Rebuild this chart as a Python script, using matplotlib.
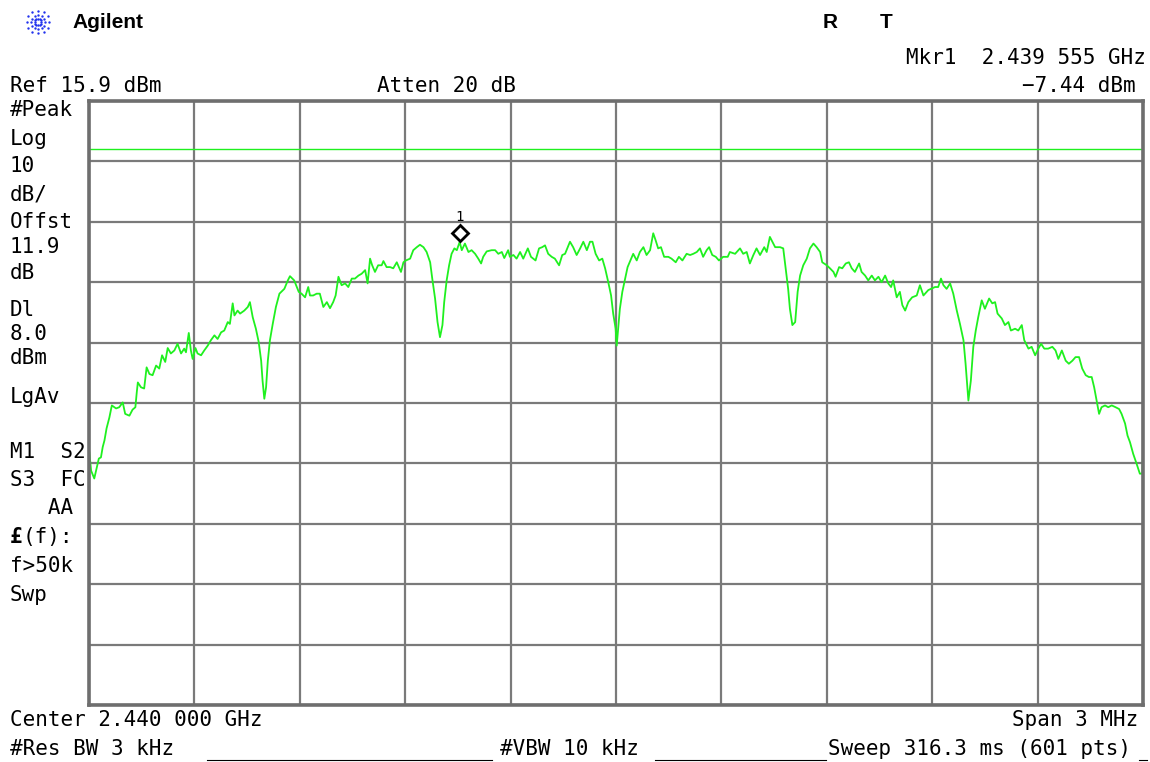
import numpy as np
import matplotlib
matplotlib.use('Agg')
import matplotlib.pyplot as plt
from matplotlib.lines import Line2D
from matplotlib.transforms import offset_copy


W, H = 1150, 762

CENTER_GHZ = 2.440
SPAN_MHZ = 3.0
REF_LEVEL = 15.9
DB_PER_DIV = 10
DISPLAY_LINE = 8.0
MKR_OFFSET_MHZ = -0.445
MKR_LEVEL = -7.44

# trace: offset from centre (MHz) and level (dBm)
freq_offset_mhz = [
    -1.499, -1.494, -1.485, -1.480, -1.472, -1.466, -1.461, -1.456, -1.450, -1.442,
    -1.435, -1.423, -1.414, -1.404, -1.397, -1.385, -1.376, -1.368, -1.364, -1.361,
    -1.352, -1.343, -1.336, -1.328, -1.319, -1.309, -1.300, -1.292, -1.283, -1.276,
    -1.267, -1.257, -1.248, -1.238, -1.229, -1.224, -1.216, -1.210, -1.205, -1.197,
    -1.191, -1.181, -1.172, -1.162, -1.153, -1.143, -1.134, -1.124, -1.115, -1.105,
    -1.099, -1.091, -1.086, -1.077, -1.070, -1.058, -1.048, -1.042, -1.034, -1.025,
    -1.017, -1.010, -1.006, -1.001, -0.996, -0.991, -0.985, -0.977, -0.968, -0.958,
    -0.944, -0.934, -0.928, -0.916, -0.903,
    -0.895, -0.885, -0.876, -0.871, -0.862, -0.852, -0.843, -0.833, -0.823, -0.814,
    -0.805, -0.798, -0.790, -0.781, -0.771, -0.762, -0.752, -0.743, -0.733, -0.724,
    -0.714, -0.707, -0.700, -0.694, -0.686, -0.677, -0.667, -0.662, -0.653, -0.643,
    -0.634, -0.624, -0.618, -0.612, -0.605, -0.598, -0.586, -0.577, -0.567, -0.558,
    -0.548, -0.539, -0.529, -0.523, -0.515, -0.508, -0.501, -0.494, -0.489, -0.482,
    -0.475, -0.468, -0.460, -0.453, -0.445, -0.439, -0.430, -0.420, -0.411, -0.401,
    -0.392, -0.384, -0.378, -0.368, -0.354, -0.344, -0.335, -0.325, -0.318, -0.307,
    -0.302, -0.292, -0.283, -0.273, -0.264, -0.251, -0.242, -0.229, -0.219, -0.210,
    -0.202, -0.193, -0.183, -0.174, -0.162, -0.153, -0.145, -0.131, -0.122, -0.112,
    -0.102, -0.093, -0.083, -0.074, -0.067, -0.058, -0.048, -0.039, -0.031, -0.022,
    -0.014, -0.008, -0.001, 0.002, 0.007, 0.011, 0.018, 0.026, 0.033, 0.043,
    0.049, 0.059, 0.068, 0.078, 0.087, 0.097, 0.106, 0.113, 0.120, 0.128,
    0.137, 0.149, 0.158, 0.170, 0.179, 0.189, 0.201, 0.211, 0.220, 0.230,
    0.239, 0.248, 0.258, 0.265, 0.274, 0.284, 0.293,
    0.305, 0.318, 0.324, 0.339, 0.353, 0.362, 0.372, 0.381, 0.391, 0.400,
    0.410, 0.422, 0.429, 0.438, 0.445, 0.453, 0.467, 0.476, 0.483, 0.490,
    0.495, 0.502, 0.510, 0.517, 0.524, 0.533, 0.543, 0.552, 0.562, 0.571,
    0.581, 0.587, 0.600, 0.609, 0.619, 0.625, 0.635, 0.644, 0.654, 0.663,
    0.671, 0.680, 0.692, 0.699, 0.709, 0.718, 0.728, 0.737, 0.747, 0.756,
    0.766, 0.775, 0.783, 0.789, 0.799, 0.808, 0.815, 0.823, 0.832, 0.843,
    0.856, 0.865, 0.875, 0.889,
    0.908, 0.917, 0.925, 0.932, 0.941, 0.951, 0.960, 0.970, 0.979, 0.989,
    0.995, 1.003, 1.010, 1.017, 1.024, 1.031, 1.041, 1.050, 1.062, 1.071,
    1.079, 1.086, 1.098, 1.107, 1.117, 1.124, 1.136, 1.145, 1.155, 1.162,
    1.174, 1.183, 1.193, 1.202, 1.210, 1.219, 1.230, 1.242, 1.251, 1.259,
    1.269, 1.280, 1.289, 1.299, 1.308, 1.318, 1.327, 1.337, 1.346, 1.354,
    1.361, 1.368, 1.375, 1.382, 1.392, 1.401, 1.411, 1.422, 1.432, 1.439,
    1.449, 1.456, 1.463, 1.472, 1.482, 1.491, 1.498, 1.500,
]

level_dbm = [
    -42.3, -45.3, -46.6, -45.3, -43.3, -43.1, -41.4, -40.3, -38.3, -36.5,
    -34.5, -35.0, -34.8, -34.0, -35.9, -36.2, -35.2, -34.8, -32.3, -30.7,
    -31.5, -31.7, -28.2, -29.3, -29.5, -27.9, -28.4, -26.2, -27.3, -25.0,
    -25.9, -25.4, -24.3, -25.9, -25.1, -25.7, -22.5, -25.4, -26.8, -25.0,
    -25.9, -26.2, -25.4, -24.6, -23.7, -22.9, -23.5, -22.4, -22.1, -20.7,
    -21.0, -17.6, -19.6, -18.8, -19.3, -18.8, -18.2, -17.4, -19.9, -21.8,
    -24.0, -27.1, -30.4, -33.4, -31.5, -27.1, -23.7, -21.0, -18.2, -16.0,
    -15.2, -13.8, -13.1, -13.8, -15.7,
    -16.0, -16.6, -14.9, -16.3, -16.3, -16.0, -16.0, -18.2, -17.4, -18.4,
    -17.4, -16.3, -13.2, -14.6, -14.3, -14.9, -13.5, -13.5, -13.0, -12.7,
    -12.1, -14.3, -10.2, -11.3, -12.4, -11.3, -11.3, -10.6, -11.6, -11.6,
    -11.8, -10.8, -11.6, -12.4, -10.8, -10.5, -10.2, -8.8, -8.3, -7.9,
    -8.3, -9.1, -10.8, -13.5, -16.8, -20.7, -23.2, -21.2, -17.4, -13.8,
    -11.3, -9.4, -8.5, -8.8, -7.44, -8.8, -7.7, -9.1, -8.8, -9.4,
    -10.2, -11.0, -9.9, -9.0, -8.8, -8.8, -9.4, -9.1, -10.1, -8.8,
    -9.9, -9.6, -10.2, -9.1, -10.2, -8.5, -9.9, -10.5, -8.5, -8.3,
    -8.0, -9.4, -9.9, -10.2, -11.3, -9.6, -9.4, -7.4, -8.3, -9.6,
    -8.5, -7.4, -8.8, -7.4, -7.4, -9.4, -10.5, -10.2, -11.8, -14.1,
    -16.3, -19.3, -21.8, -24.6, -21.2, -18.5, -15.7, -13.5, -11.6, -10.2,
    -9.4, -10.5, -9.1, -8.3, -9.6, -8.8, -6.0, -7.2, -8.5, -8.3,
    -9.9, -9.9, -10.2, -10.8, -9.9, -10.5, -9.4, -9.6, -9.4, -9.1,
    -8.5, -9.9, -8.8, -8.3, -9.6, -9.9, -10.5,
    -9.9, -9.9, -9.1, -9.4, -8.5, -9.4, -9.1, -11.0, -9.6, -8.5,
    -9.6, -8.3, -9.1, -6.6, -7.4, -8.3, -8.3, -8.5, -11.8, -15.2,
    -18.5, -21.2, -20.7, -15.7, -13.0, -11.3, -10.2, -8.5, -7.7, -8.3,
    -9.1, -10.8, -11.3, -11.8, -12.4, -13.2, -11.6, -11.8, -11.0, -10.8,
    -11.8, -12.4, -11.0, -12.4, -13.0, -13.8, -13.0, -13.8, -13.2, -14.1,
    -13.0, -14.3, -14.9, -13.8, -16.6, -15.7, -17.9, -18.8, -17.4, -16.6,
    -16.3, -14.6, -16.3, -15.4,
    -14.9, -14.9, -13.5, -14.6, -15.2, -14.3, -16.0, -18.8, -21.0, -23.7,
    -27.6, -33.7, -30.4, -24.8, -22.1, -19.9, -17.1, -18.5, -16.8, -17.6,
    -17.4, -19.3, -20.1, -21.2, -20.7, -22.1, -21.8, -22.1, -21.2, -23.7,
    -25.1, -24.8, -26.2, -25.1, -24.3, -25.1, -25.1, -24.8, -25.4, -26.8,
    -25.4, -27.1, -27.6, -27.1, -26.5, -26.5, -28.4, -29.5, -29.8, -29.8,
    -31.5, -33.7, -35.9, -34.8, -34.5, -34.8, -34.5, -34.8, -35.1, -35.9,
    -37.5, -39.5, -40.6, -42.5, -44.2, -45.8, -45.8, -42.5,
]

left_annotations = [
    ('#Peak', 110), ('Log', 139), ('10', 166), ('dB/', 194), ('Offst', 222),
    ('11.9', 247), ('dB', 273), ('Dl', 310), ('8.0', 334), ('dBm', 358),
    ('LgAv', 397), ('M1  S2', 452), ('S3  FC', 480), ('   AA', 508),
    ('f>50k', 566), ('Swp', 595),
]

MONO = 'DejaVu Sans Mono'
FS = 15
GRID_COL = '#7a7a7a'
TRACE_COL = '#1ff01f'


def fx(x):
    return x / W


def fy(y):
    return 1 - y / H


fig = plt.figure(figsize=(W / 100, H / 100), dpi=100)
fig.patch.set_facecolor('white')

left, right, top, bottom = 89, 1143, 101, 705
ax = fig.add_axes([fx(left), fy(bottom), (right - left) / W, (bottom - top) / H])

half = SPAN_MHZ / 2
ax.set_xlim(-half, half)
ax.set_ylim(REF_LEVEL - 10 * DB_PER_DIV, REF_LEVEL)
ax.set_xticks(np.linspace(-half, half, 11))
ax.set_yticks(np.linspace(REF_LEVEL - 10 * DB_PER_DIV, REF_LEVEL, 11))
ax.tick_params(length=0, labelbottom=False, labelleft=False)
ax.grid(True, color=GRID_COL, linewidth=1.6)
ax.set_axisbelow(True)
for s in ax.spines.values():
    s.set_color('#6e6e6e')
    s.set_linewidth(2.6)

ax.axhline(DISPLAY_LINE, color=TRACE_COL, linewidth=1.0)
ax.plot(freq_offset_mhz, level_dbm, color=TRACE_COL, linewidth=1.3)

up9 = offset_copy(ax.transData, fig=fig, x=0, y=9, units='dots')
ax.plot([MKR_OFFSET_MHZ], [MKR_LEVEL], marker='D', ms=8, mfc='white',
        mec='black', mew=2, linestyle='none', transform=up9, zorder=5)
up26 = offset_copy(ax.transData, fig=fig, x=0, y=25, units='dots')
ax.text(MKR_OFFSET_MHZ, MKR_LEVEL, '1', transform=up26, ha='center', va='center',
        fontsize=10, family=MONO)

# header
logo = fig.add_axes([fx(24), fy(36), 28 / W, 28 / H])
logo.set_xlim(-1.1, 1.1)
logo.set_ylim(-1.1, 1.1)
logo.axis('off')
for ang in np.arange(0, 360, 30):
    a = np.deg2rad(ang)
    r = np.array([0.25, 0.55, 0.9])
    logo.scatter(r * np.cos(a), r * np.sin(a), s=3, color='#2233ee', lw=0)

fig.text(fx(72), fy(23), 'Agilent', fontsize=15, fontweight='bold',
         family='Liberation Sans', va='center')
fig.text(fx(830), fy(22), 'R', fontsize=15, fontweight='bold',
         family='Liberation Sans', va='center', ha='center')
fig.text(fx(886), fy(22), 'T', fontsize=15, fontweight='bold',
         family='Liberation Sans', va='center', ha='center')

fig.text(fx(1146), fy(58), 'Mkr1  2.439 555 GHz', fontsize=FS, family=MONO,
         ha='right', va='center')
fig.text(fx(1136), fy(86), '\u22127.44 dBm', fontsize=FS, family=MONO,
         ha='right', va='center')
fig.text(fx(10), fy(86), 'Ref 15.9 dBm', fontsize=FS, family=MONO, va='center')
fig.text(fx(377), fy(86), 'Atten 20 dB', fontsize=FS, family=MONO, va='center')

for label, y in left_annotations:
    fig.text(fx(10), fy(y), label, fontsize=FS, family=MONO, va='center')
fig.text(fx(10), fy(537), '\u00a3', fontsize=FS, family=MONO, fontweight='bold',
         va='center')
fig.text(fx(23), fy(537), '(f):', fontsize=FS, family=MONO, va='center')

# footer
fig.text(fx(10), fy(720), 'Center 2.440 000 GHz', fontsize=FS, family=MONO,
         va='center')
fig.text(fx(1138), fy(720), 'Span 3 MHz', fontsize=FS, family=MONO,
         ha='right', va='center')
fig.text(fx(10), fy(749), '#Res BW 3 kHz', fontsize=FS, family=MONO, va='center')
fig.text(fx(500), fy(749), '#VBW 10 kHz', fontsize=FS, family=MONO, va='center')
fig.text(fx(828), fy(749), 'Sweep 316.3 ms (601 pts)', fontsize=FS, family=MONO,
         va='center')
for x0, x1 in [(207, 492), (655, 826), (1139, 1147)]:
    fig.add_artist(Line2D([fx(x0), fx(x1)], [fy(760), fy(760)], color='black',
                          linewidth=0.8))

fig.savefig('out.png', dpi=100, facecolor='white')
